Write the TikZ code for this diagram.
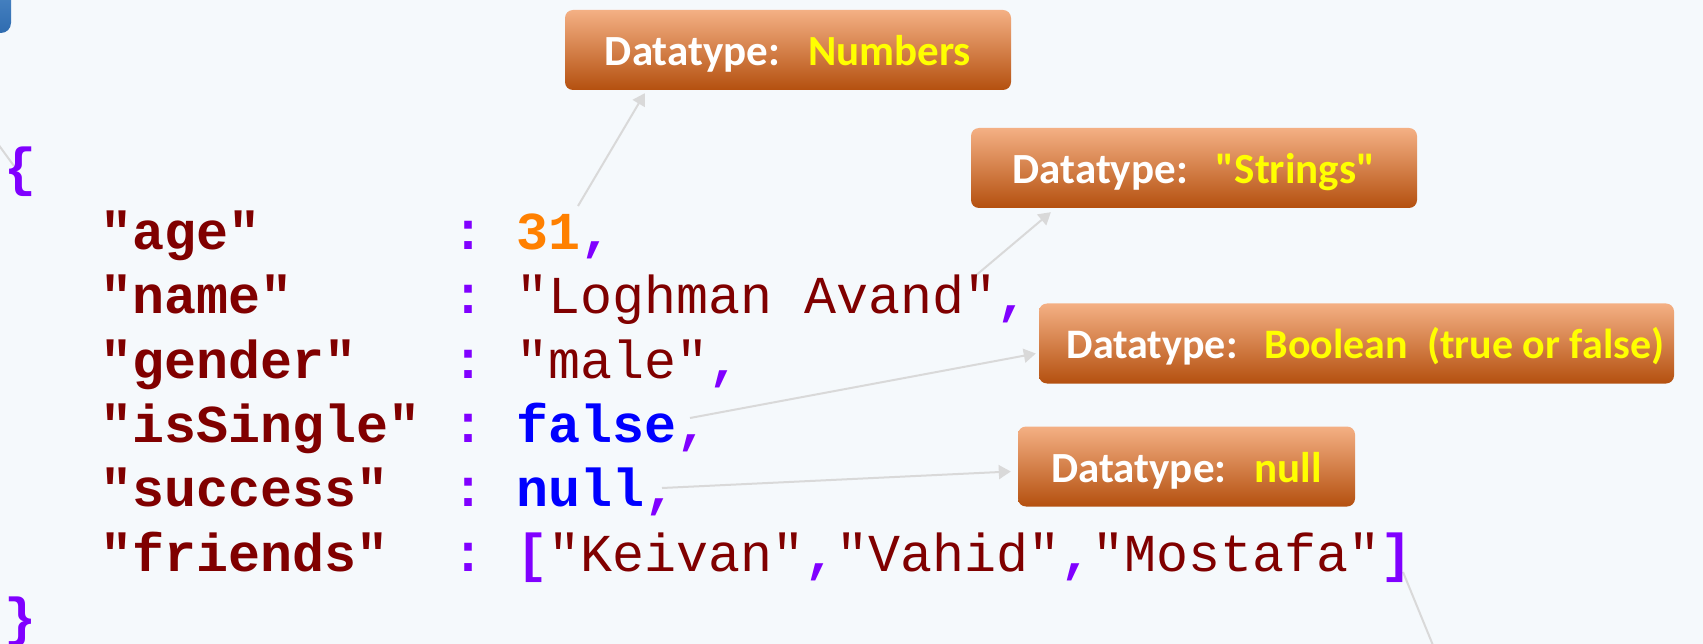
\documentclass[tikz,border=0pt]{standalone}
\usepackage{fontspec}
\usetikzlibrary{arrows.meta,calc}
\newfontfamily\codefont{Liberation Mono}
\newfontfamily\boxfont{Carlito}
\definecolor{bgc}{HTML}{F5F9FC}
\definecolor{keyred}{HTML}{800000}
\definecolor{purp}{HTML}{8000FF}
\definecolor{numor}{HTML}{FF8000}
\definecolor{kwblue}{HTML}{0000FF}
\definecolor{conn}{HTML}{D9D9D9}
\definecolor{btop}{HTML}{F4B084}
\definecolor{bmid}{HTML}{ED7D31}
\definecolor{bbot}{HTML}{B4500F}
\definecolor{yel}{HTML}{FFFF00}
\definecolor{bluetop}{HTML}{5B95D0}
\definecolor{bluebot}{HTML}{2F6CB0}
\pgfdeclarelayer{bglayer}
\pgfdeclarelayer{linelayer}
\pgfsetlayers{bglayer,linelayer,main}
\begin{document}
\begin{tikzpicture}[x=1pt,y=-1pt,
  tok/.style={anchor=base west, inner sep=0pt},
  key/.style={tok, text=keyred, font=\codefont\bfseries\fontsize{53.33}{64}\selectfont},
  str/.style={tok, text=keyred, font=\codefont\fontsize{53.33}{64}\selectfont},
  punct/.style={tok, text=purp, font=\codefont\bfseries\fontsize{53.33}{64}\selectfont},
  numv/.style={tok, text=numor, font=\codefont\bfseries\fontsize{53.33}{64}\selectfont},
  kwv/.style={tok, text=kwblue, font=\codefont\bfseries\fontsize{53.33}{64}\selectfont},
  dbox/.style={rounded corners=8pt, top color=btop, middle color=bmid, bottom color=bbot,
    draw=none, minimum height=80pt, inner sep=0pt, text=white,
    font=\boxfont\bfseries\fontsize{43}{50}\selectfont, text height=31pt, text depth=0pt},
  conn/.style={draw=conn, line width=2pt, -{Triangle[width=14pt,length=12pt]}},
  connplain/.style={draw=conn, line width=2pt}
]
\useasboundingbox (0,0) rectangle (1703,644);
\begin{pgfonlayer}{bglayer}
\fill[bgc] (0,0) rectangle (1703,644);
\begin{scope}
\clip (0,0) rectangle (1703,644);
\shade[top color=bluetop, bottom color=bluebot, rounded corners=10pt] (-40,-40) rectangle (11,33);
\end{scope}
\end{pgfonlayer}

% braces
\node[punct] (lbr) at (4,185.5) {\{};
\node[punct] (rbr) at (4,635.25) {\}};

% row 1
\node[key] (kage) at (100,249.75) {"age"};
\node[punct] (c1) at (452,249.75) {:};
\node[numv] (v31) at (516,249.75) {31};
\node[punct] (m1) at (580,249.75) {,};
% row 2
\node[key] (kname) at (100,314) {"name"};
\node[punct] (c2) at (452,314) {:};
\node[str] (vname) at (516,314) {"Loghman Avand"};
\node[punct] (m2) at (996,314) {,};
% row 3
\node[key] (kgender) at (100,378.25) {"gender"};
\node[punct] (c3) at (452,378.25) {:};
\node[str] (vgender) at (516,378.25) {"male"};
\node[punct] (m3) at (708,378.25) {,};
% row 4
\node[key] (ksingle) at (100,442.5) {"isSingle"};
\node[punct] (c4) at (452,442.5) {:};
\node[kwv] (vfalse) at (516,442.5) {false};
\node[punct] (m4) at (676,442.5) {,};
% row 5
\node[key] (ksucc) at (100,506.75) {"success"};
\node[punct] (c5) at (452,506.75) {:};
\node[kwv] (vnull) at (516,506.75) {null};
\node[punct] (m5) at (644,506.75) {,};
% row 6
\node[key] (kfr) at (100,571) {"friends"};
\node[punct] (c6) at (452,571) {:};
\node[punct] (lsq) at (516,571) {[};
\node[str] (f1) at (548,571) {"Keivan"};
\node[punct] (m6) at (804,571) {,};
\node[str] (f2) at (836,571) {"Vahid"};
\node[punct] (m7) at (1060,571) {,};
\node[str] (f3) at (1092,571) {"Mostafa"};
\node[punct] (rsq) at (1380,571) {]};

% boxes
\node[dbox, minimum width=446pt] (num) at (788,50) {Datatype:\hspace{28pt}\textcolor{yel}{Numbers}};
\node[dbox, minimum width=446pt] (strb) at (1194,168) {Datatype:\hspace{28pt}\textcolor{yel}{"Strings"}};
\node[dbox, minimum width=635pt, font=\boxfont\bfseries\fontsize{42}{50}\selectfont] (bool) at (1356.5,343.5) {\hspace{18pt}Datatype:\hspace{27pt}\textcolor{yel}{Boolean\ \ (true or false)}};
\node[dbox, minimum width=337pt] (nul) at (1186.5,466.5) {Datatype:\hspace{28pt}\textcolor{yel}{null}};

% connectors
\coordinate (s31) at (578,206);
\coordinate (sname) at (974,277);
\coordinate (sfalse) at (690,418);
\coordinate (snull) at (662,488);
\coordinate (sbr) at (1403,572);
\coordinate (ebr) at (1439,660);
\coordinate (slb) at (14,166);
\coordinate (elb) at (-10,133);
\begin{pgfonlayer}{linelayer}
\draw[conn] (s31) -- ($(num.south west)+(80,3)$);
\draw[conn] (sname) -- ($(strb.south west)+(80,4)$);
\draw[conn] (sfalse) -- ($(bool.west)+(-3,10)$);
\draw[conn] (snull) -- ($(nul.west)+(-7,5)$);
\draw[connplain] (sbr) -- (ebr);
\draw[connplain] (slb) -- (elb);
\end{pgfonlayer}
\end{tikzpicture}
\end{document}
